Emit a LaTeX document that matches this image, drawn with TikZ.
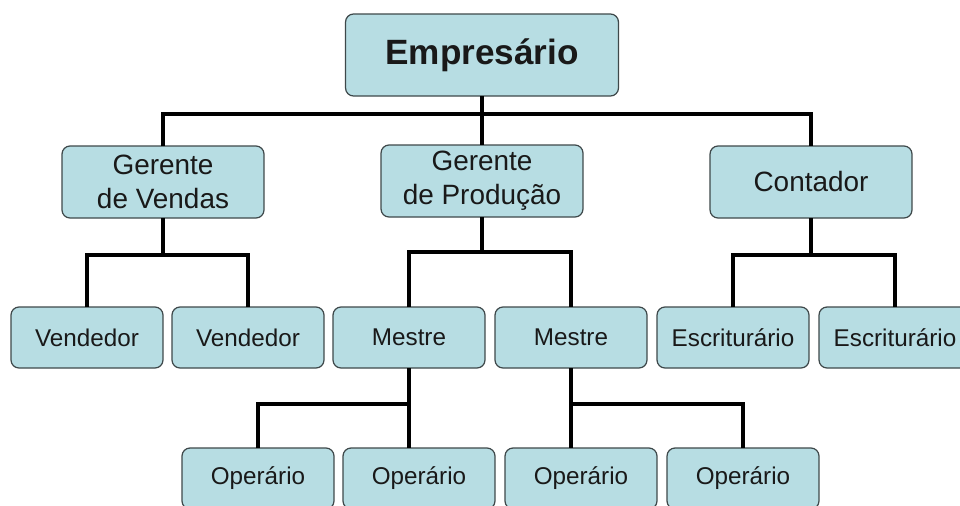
\documentclass[tikz,border=0pt]{standalone}
\usepackage{fontspec}
\setmainfont{Liberation Sans}
\definecolor{caixa}{RGB}{183,221,227}
\definecolor{borda}{RGB}{62,72,74}
\tikzset{
  cargo/.style={
    draw=borda, line width=0.7pt,
    fill=caixa,
    rounded corners=1.6mm,
    align=center,
    outer sep=0, inner sep=0,
    text=black!90
    %label={[red]center:#1}
  },
  dono/.style={cargo, minimum width=5.46cm, minimum height=1.64cm,
    font=\fontsize{20}{24}\selectfont\bfseries},
  chefe/.style={cargo, minimum width=4.04cm, minimum height=1.44cm,
    font=\fontsize{15.9}{19.3}\selectfont},
  auxiliar/.style={cargo, minimum width=3.04cm, minimum height=1.22cm,
    font=\fontsize{13.8}{16}\selectfont},
  ligacao/.style={draw=black, line width=2.2pt}
}

\begin{document}
\begin{tikzpicture}[x=0.02cm,y=-0.02cm]

\useasboundingbox (0,0) rectangle (960,505);
\clip (0,0) rectangle (960,505);

%%%%%%%%%top
    \node[dono] (emp) at (482,55) {Empresário};

%%%%%%%%%gerentes
    \node[chefe] (gv) at (163,182) {Gerente\\de Vendas};
    \node[chefe] (gp) at (482,181) {Gerente\\de Produção};
    \node[chefe] (ct) at (811,182) {Contador};

%%%%%%%%%second row
    \foreach \nome/\x/\texto in {v1/87/Vendedor, v2/248/Vendedor, m1/409/Mestre,
                                 m2/571/Mestre, e1/733/Escriturário, e2/895/Escriturário}
        \node[auxiliar] (\nome) at (\x,337.5) {\texto};

%%%%%%%%%third row
    \foreach \nome/\x in {op1/258, op2/419, op3/581, op4/743}
        \node[auxiliar] (\nome) at (\x,478.5) {Operário};

%%%%%%%%%junctions
    \coordinate (je) at (482,114);
    \coordinate (jv) at (163,255);
    \coordinate (jp) at (482,252);
    \coordinate (jc) at (811,255);
    \coordinate (jm1) at (409,404);
    \coordinate (jm2) at (571,404);

%%%%%%%%%lines
    \draw[ligacao] (emp.south) -- (gp.north);
    \draw[ligacao] (gv.north) |- (je) -| (ct.north);

    \draw[ligacao] (gv.south) -- (jv);
    \draw[ligacao] (v1.north) |- (jv) -| (v2.north);

    \draw[ligacao] (gp.south) -- (jp);
    \draw[ligacao] (m1.north) |- (jp) -| (m2.north);

    \draw[ligacao] (ct.south) -- (jc);
    \draw[ligacao] (e1.north) |- (jc) -| (e2.north);

    \draw[ligacao] (m1.south) -- (m1.south |- op2.north);
    \draw[ligacao] (op1.north) |- (jm1);

    \draw[ligacao] (m2.south) -- (m2.south |- op3.north);
    \draw[ligacao] (jm2) -| (op4.north);

\end{tikzpicture}
\end{document}
